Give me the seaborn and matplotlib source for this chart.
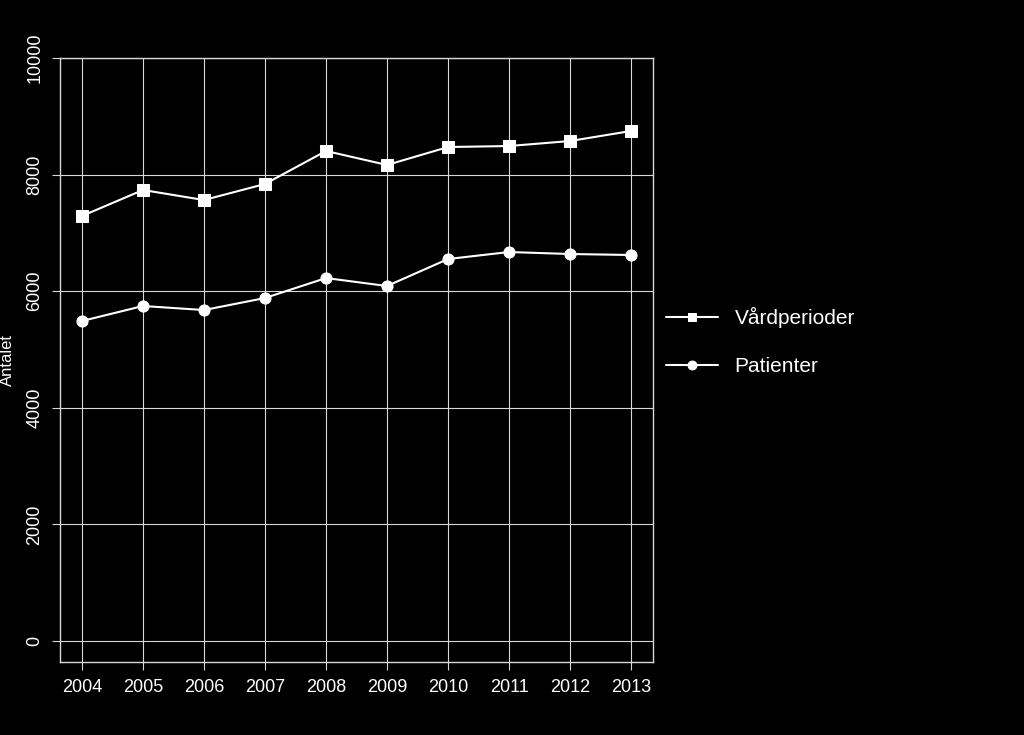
import matplotlib
matplotlib.use("Agg")
import matplotlib.pyplot as plt
import seaborn as sns
import pandas as pd

years = [2004, 2005, 2006, 2007, 2008, 2009, 2010, 2011, 2012, 2013]
vardperioder = [7290, 7736, 7564, 7839, 8405, 8165, 8473, 8490, 8576, 8748]
patienter = [5489, 5746, 5677, 5883, 6226, 6089, 6552, 6672, 6638, 6621]
yticks = [0, 2000, 4000, 6000, 8000, 10000]

df = pd.DataFrame({"year": years * 2,
                   "value": vardperioder + patienter,
                   "serie": ["Vårdperioder"] * 10 + ["Patienter"] * 10})

sns.set_style("dark")
plt.rcParams["font.family"] = "Liberation Sans"
fig = plt.figure(figsize=(10.24, 7.35), dpi=100, facecolor="black")
ax = fig.add_axes([60 / 1024, 1 - 662 / 735, 593 / 1024, 604 / 735])
ax.set_facecolor("black")

sns.lineplot(data=df, x="year", y="value", hue="serie", style="serie",
             markers={"Vårdperioder": "s", "Patienter": "o"}, dashes=False,
             palette={"Vårdperioder": "white", "Patienter": "white"},
             markersize=8, markeredgecolor="white", linewidth=1.5, ax=ax)

ax.set_xlim(2003.64, 2013.36)
ax.set_ylim(-360, 10000)
ax.set_xticks(years)
ax.set_yticks(yticks)
ax.set_yticklabels([str(t) for t in yticks], rotation=90, va="center")
ax.grid(True, color="#d8d8d8", linewidth=0.8)
ax.tick_params(colors="#d8d8d8", labelcolor="white", labelsize=13, length=6,
               direction="out", left=True, bottom=True, pad=6)
for s in ax.spines.values():
    s.set_color("#d8d8d8")
    s.set_linewidth(1)
ax.set_xlabel("")
ax.set_ylabel("Antalet", color="white", fontsize=12, labelpad=8)

leg = ax.legend(loc="center left", bbox_to_anchor=(0.99, 0.53), frameon=False,
                fontsize=15, labelspacing=1.4, handlelength=2.5, markerscale=0.8)
for t in leg.get_texts():
    t.set_color("white")

fig.savefig("out.png", dpi=100, facecolor="black")
